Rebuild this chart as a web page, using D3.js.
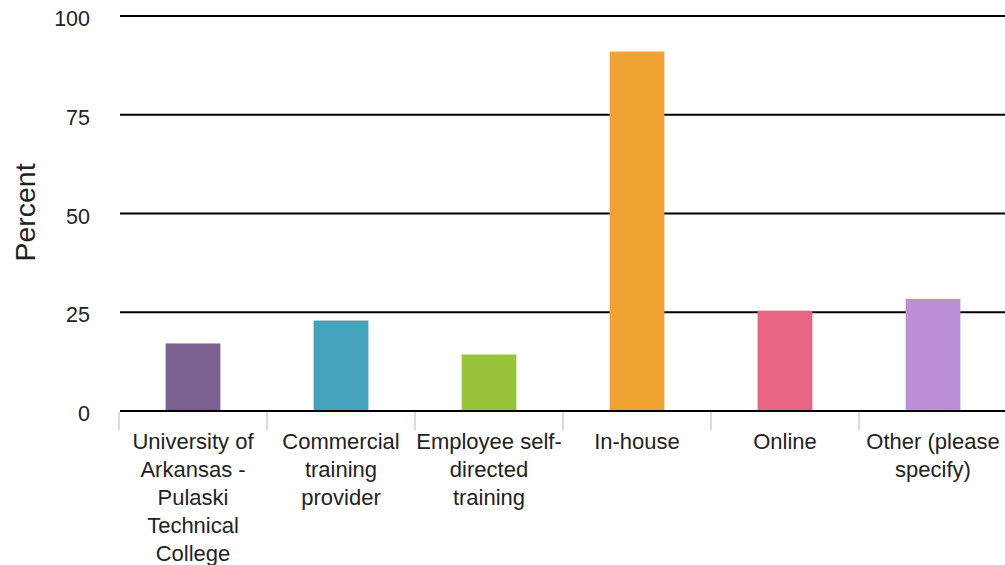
<!DOCTYPE html>
<html>
<head>
<meta charset="utf-8">
<script src="https://cdn.jsdelivr.net/npm/d3@7"></script>
<style>
  body { margin: 0; background: #fff; }
  text { font-family: "Liberation Sans", Arial, sans-serif; fill: #222; }
</style>
</head>
<body>
<div id="chart"></div>
<script>
// categories and values
var categories = [
    ["University of", "Arkansas -", "Pulaski", "Technical", "College"],
    ["Commercial", "training", "provider"],
    ["Employee self-", "directed", "training"],
    ["In-house"],
    ["Online"],
    ["Other (please", "specify)"]
];
var values = [17.1, 22.9, 14.3, 91.0, 25.4, 28.4];
var colors = ["#7b6190", "#45a2bd", "#97c43a", "#f0a232", "#e96585", "#bb8fd6"];
var yTicks = [0, 25, 50, 75, 100];

var width = 1005, height = 565;
var margin = {left: 119, right: -2, top: 16, bottom: 154};

var svg = d3.select("#chart").append("svg")
    .attr("width", width)
    .attr("height", height);

var x = d3.scaleBand()
    .domain(d3.range(categories.length))
    .range([margin.left, width - margin.right])
    .paddingInner(0.63)
    .paddingOuter(0.315);

var y = d3.scaleLinear()
    .domain([0, 100])
    .range([height - margin.bottom, margin.top]);

// gridlines
svg.selectAll(".grid")
    .data(yTicks)
    .enter().append("line")
    .attr("x1", margin.left + 1)
    .attr("x2", width)
    .attr("y1", d => y(d))
    .attr("y2", d => y(d))
    .style("stroke", "#000")
    .style("stroke-width", 2);

// y tick labels
svg.selectAll(".ytick")
    .data(yTicks)
    .enter().append("text")
    .attr("x", 90)
    .attr("y", d => y(d) + 10)
    .attr("text-anchor", "end")
    .style("font-size", "21.5px")
    .text(d => d);

// y axis title
svg.append("text")
    .attr("transform", "translate(35," + (y(50) - 1) + ") rotate(-90)")
    .attr("text-anchor", "middle")
    .style("font-size", "28.5px")
    .text("Percent");

// bars
svg.selectAll(".bar")
    .data(values)
    .enter().append("rect")
    .attr("x", (d, i) => x(i))
    .attr("width", x.bandwidth())
    .attr("y", d => y(d))
    .attr("height", d => y(0) - y(d))
    .style("fill", (d, i) => colors[i]);

// redraw the zero line on top of the bars
svg.append("line")
    .attr("x1", margin.left + 1)
    .attr("x2", width)
    .attr("y1", y(0))
    .attr("y2", y(0))
    .style("stroke", "#000")
    .style("stroke-width", 2);

// category boundary ticks
var step = x.step();
var bounds = d3.range(categories.length + 1).map(i => x(0) - x.paddingOuter() * step + i * step);
svg.selectAll(".xtick")
    .data(bounds)
    .enter().append("line")
    .attr("x1", d => d)
    .attr("x2", d => d)
    .attr("y1", y(0) + 1)
    .attr("y2", y(0) + 19)
    .style("stroke", "#c9d0de")
    .style("stroke-width", 1.5);

// category labels
var labels = svg.selectAll(".xlabel")
    .data(categories)
    .enter().append("text")
    .attr("text-anchor", "middle")
    .style("font-size", "22px")
    .attr("transform", (d, i) => "translate(" + (x(i) + x.bandwidth() / 2) + "," + (y(0) + 38) + ")");

labels.selectAll("tspan")
    .data(d => d)
    .enter().append("tspan")
    .attr("x", 0)
    .attr("y", (d, i) => i * 28)
    .text(d => d);
</script>
</body>
</html>
